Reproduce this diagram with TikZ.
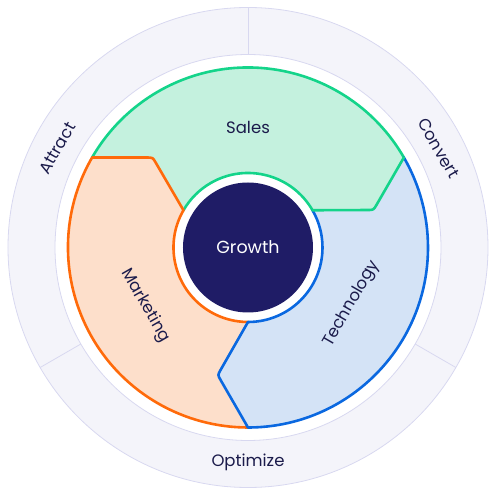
\documentclass[tikz,border=0pt]{standalone}
\usepackage{fontspec}
\setmainfont{Poppins}
\usetikzlibrary{calc}
\definecolor{ringfill}{HTML}{F4F4FA}
\definecolor{ringline}{HTML}{D8D8F0}
\definecolor{salesfill}{HTML}{C4F1DE}
\definecolor{salesline}{HTML}{14D48A}
\definecolor{mktfill}{HTML}{FDDFCB}
\definecolor{mktline}{HTML}{FF6A0A}
\definecolor{techfill}{HTML}{D4E3F6}
\definecolor{techline}{HTML}{0A68E0}
\definecolor{navy}{HTML}{1F1C66}
\definecolor{txt}{HTML}{1B1B4B}
\begin{document}
\begin{tikzpicture}[x=1pt,y=1pt,
  seg/.style={line width=2.6pt,line cap=round,line join=round},
  lbl/.style={text=txt,font=\fontsize{16.5}{19}\selectfont,inner sep=0pt},
  ringlbl/.style={text=txt,font=\fontsize{16.5}{19}\selectfont,inner sep=0pt}]
\useasboundingbox (-248,-247.5) rectangle (248,247.5);
% outer ring
\fill[ringfill,even odd rule] (0,0) circle[radius=240] (0,0) circle[radius=193];
\draw[ringline,line width=0.8pt] (0,0) circle[radius=240];
\draw[ringline,line width=0.8pt] (0,0) circle[radius=193];
\foreach \a in {90,210,330}
  \draw[ringline,line width=0.8pt] (\a:193) -- (\a:240);
% key points
\foreach \t in {30,150,270}{
  \coordinate (i\t) at (\t:74.5);
  \coordinate (o\t) at (\t:180);
  \coordinate (c\t) at ({\t-13.37}:131.05);
  \coordinate (a\t) at ($(c\t)!6pt!(i\t)$);
  \coordinate (b\t) at ($(c\t)!6pt!(o\t)$);
}
% fills
\fill[salesfill] (i30) -- (a30) .. controls (c30) .. (b30) -- (o30)
  arc[start angle=30,end angle=150,radius=180]
  -- (b150) .. controls (c150) .. (a150) -- (i150)
  arc[start angle=150,end angle=30,radius=74.5] -- cycle;
\fill[mktfill] (i150) -- (a150) .. controls (c150) .. (b150) -- (o150)
  arc[start angle=150,end angle=270,radius=180]
  -- (b270) .. controls (c270) .. (a270) -- (i270)
  arc[start angle=270,end angle=150,radius=74.5] -- cycle;
\fill[techfill] (i270) -- (a270) .. controls (c270) .. (b270) -- (o270)
  arc[start angle=270,end angle=390,radius=180]
  -- (b30) .. controls (c30) .. (a30) -- (i30)
  arc[start angle=390,end angle=270,radius=74.5] -- cycle;
% arcs
\draw[seg,salesline] (o30) arc[start angle=30,end angle=150,radius=180];
\draw[seg,salesline] (i30) arc[start angle=30,end angle=150,radius=74.5];
\draw[seg,mktline] (o150) arc[start angle=150,end angle=270,radius=180];
\draw[seg,mktline] (i150) arc[start angle=150,end angle=270,radius=74.5];
\draw[seg,techline] (o270) arc[start angle=270,end angle=390,radius=180];
\draw[seg,techline] (i270) arc[start angle=270,end angle=390,radius=74.5];
% boundaries
\draw[seg,salesline] (i30) -- (a30) .. controls (c30) .. (b30) -- (o30);
\draw[seg,mktline] (i150) -- (a150) .. controls (c150) .. (b150) -- (o150);
\draw[seg,techline] (i270) -- (a270) .. controls (c270) .. (b270) -- (o270);
% centre
\node[circle,fill=navy,minimum size=130pt,inner sep=0pt,text=white,
  font=\fontsize{17.5}{20}\selectfont] (growth) at (0,0) {Growth};
% labels
\node[lbl] (sales) at (90:120) {Sales};
\node[lbl,rotate=-60] (mkt) at (209.5:118) {Marketing};
\node[lbl,rotate=60] (tech) at (331.5:118) {Technology};
\node[ringlbl,rotate=60] (attract) at (152.5:215) {Attract};
\node[ringlbl,rotate=-60] (convert) at (27.5:215) {Convert};
\node[ringlbl] (optimize) at (270:215) {Optimize};
\end{tikzpicture}
\end{document}
